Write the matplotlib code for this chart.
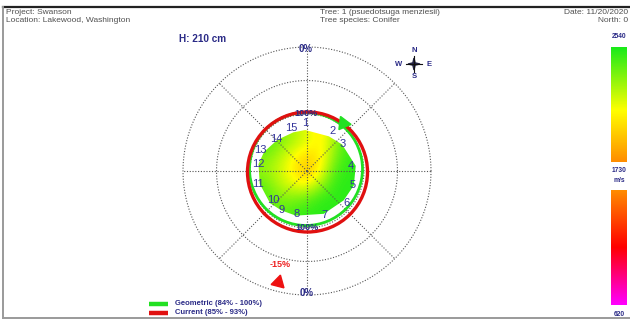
import numpy as np
import matplotlib.pyplot as plt
from matplotlib.colors import LinearSegmentedColormap, Normalize
from matplotlib.patches import Polygon, Circle

plt.rcParams['font.family'] = ['Liberation Sans', 'DejaVu Sans']

NAVY = '#2a2a86'

# header info
project = 'Project: Swanson'
location = 'Location: Lakewood, Washington'
tree = 'Tree: 1 (psuedotsuga menziesii)'
species = 'Tree species: Conifer'
date = 'Date: 11/20/2020'
north = 'North: 0'
height_label = 'H: 210 cm'

# velocity scale (m/s)
vel_min, vel_mid, vel_max = 620, 1730, 2540

# sensors: angle clockwise from north (deg), label radius and edge radius (px)
sensor_ids = list(range(1, 16))
sensor_angle = [357.6, 32.3, 53, 84, 107, 128.6, 158.5, 194, 213, 229, 255, 278, 294, 316.5, 340.5]
label_radius = [47.7, 47.3, 44.5, 44, 48, 51, 47, 44.7, 46.5, 44.4, 51, 49, 51.5, 44, 46]
edge_radius = [41, 41, 44, 49, 49, 47, 46, 46, 47, 49, 49, 49, 47, 43, 41]

# velocity grid across the cross-section (top row first)
velocity = np.array([
    [2400, 2350, 2250, 2150, 2000, 2300, 2450],
    [2450, 2350, 2250, 2150, 2050, 2300, 2500],
    [2350, 2250, 2100, 1950, 2050, 2350, 2500],
    [2300, 2200, 2050, 1880, 2100, 2450, 2500],
    [2400, 2250, 2150, 2100, 2300, 2500, 2500],
    [2450, 2350, 2350, 2400, 2500, 2500, 2500],
    [2400, 2400, 2450, 2500, 2500, 2500, 2450],
])

# percentage rings
ring_pct = [0, 50, 100]
ring_label_pct = [0, 100]
R0, R100 = 124, 57

# outline rings
geometric_radius, geometric_offset = 56.5, (-1, 2)
current_radius, current_offset = 60, (0.5, -1)
legend_labels = ['Geometric (84% - 100%)', 'Current (85% - 93%)']
legend_colors = ['#22e022', '#e01010']

# direction markers: angle (deg, clockwise from north), radius (px)
geo_marker = (37, 60)
lean_marker = (194.5, 115)
lean_label = '-15%'


def pct_to_r(p):
    return R100 + (100 - p) / 100 * (R0 - R100)


def polar_xy(angle_deg, r):
    a = np.radians(angle_deg)
    return r * np.sin(a), r * np.cos(a)


cmap = LinearSegmentedColormap.from_list('tomo', [
    (0.0, (1.0, 0.0, 1.0)),
    ((1175 - vel_min) / (vel_max - vel_min), (1.0, 0.0, 0.0)),
    ((vel_mid - vel_min) / (vel_max - vel_min), (1.0, 0.55, 0.0)),
    ((2095 - vel_min) / (vel_max - vel_min), (1.0, 1.0, 0.0)),
    (1.0, (0.1, 0.92, 0.1)),
])
norm = Normalize(vel_min, vel_max)

fig = plt.figure(figsize=(6.3, 3.2), dpi=100)

# page layer in pixel coordinates
page = fig.add_axes([0, 0, 1, 1])
page.set_xlim(0, 630)
page.set_ylim(320, 0)
page.axis('off')
page.plot([3, 630], [7, 7], color='#222222', lw=1.6)
page.plot([3, 3], [7, 318], color='#9a9a9a', lw=1.4)
page.plot([3, 630], [318, 318], color='#9a9a9a', lw=1.4)

hdr = dict(fontsize=6, color='#505050', va='center')
page.text(6, 12.5, project, **hdr)
page.text(6, 21, location, **hdr)
page.text(320, 12.5, tree, **hdr)
page.text(320, 21, species, **hdr)
page.text(628, 12.5, date, ha='right', **hdr)
page.text(628, 21, north, ha='right', **hdr)
page.text(179, 39, height_label, fontsize=7.2, fontweight='bold', color=NAVY, va='center')

# compass
cx, cy = 414, 64
page.plot([cx, cx], [cy - 8, cy + 8], color='#111111', lw=0.8)
page.plot([cx - 8, cx + 8], [cy, cy], color='#111111', lw=0.8)
star_ang = np.radians(np.arange(0, 360, 45))
star_r = np.where(np.arange(8) % 2 == 0, 6, 1.6)
page.add_patch(Polygon(np.column_stack([cx + star_r * np.sin(star_ang), cy - star_r * np.cos(star_ang)]),
                       closed=True, color='#222244'))
cmp = dict(fontsize=5.5, fontweight='bold', color=NAVY, ha='center', va='center')
page.text(cx, cy - 14, 'N', **cmp)
page.text(cx, cy + 13, 'S', **cmp)
page.text(cx - 15, cy, 'W', **cmp)
page.text(cx + 15, cy, 'E', **cmp)

# legend
for i, (lab, col) in enumerate(zip(legend_labels, legend_colors)):
    y = 303.5 + i * 9
    page.plot([149, 168], [y, y], color=col, lw=3.2, solid_capstyle='butt')
    page.text(175, y, lab, fontsize=5.5, fontweight='bold', color=NAVY, va='center')

# colour scale
bar_top = fig.add_axes([611 / 630, (320 - 162) / 320, 16 / 630, 115 / 320])
bar_top.imshow(np.linspace(vel_max, vel_mid, 256)[:, None], cmap=cmap, norm=norm, aspect='auto')
bar_top.axis('off')
bar_bot = fig.add_axes([611 / 630, (320 - 305) / 320, 16 / 630, 115 / 320])
bar_bot.imshow(np.linspace(vel_mid, vel_min, 256)[:, None], cmap=cmap, norm=norm, aspect='auto')
bar_bot.axis('off')
sc = dict(fontsize=4.8, fontweight='bold', color=NAVY, ha='center', va='center')
page.text(619, 37, str(vel_max), **sc)
page.text(619, 171, str(vel_mid), **sc)
page.text(619, 180.5, 'm/s', **sc)
page.text(619, 314, str(vel_min), **sc)

# tomogram chart, pixel units around the stem centre
ax = fig.add_axes([(307 - 135) / 630, (320 - 171 - 135) / 320, 270 / 630, 270 / 320])
ax.set_xlim(-135, 135)
ax.set_ylim(-135, 135)
ax.set_aspect('equal')
ax.axis('off')

dot = dict(color='#555555', lw=0.8, ls=(0, (1, 1.5)))
t = np.linspace(0, 2 * np.pi, 361)
for p in ring_pct:
    r = pct_to_r(p)
    ax.plot(r * np.cos(t), r * np.sin(t), zorder=1, **dot)
for a in range(0, 360, 45):
    x, y = polar_xy(a, R0)
    ax.plot([0, x], [0, y], zorder=4, **dot)

ex, ey = polar_xy(np.array(sensor_angle), np.array(edge_radius))
outline = Polygon(np.column_stack([ex, ey]), closed=True, facecolor='none', edgecolor='none')
ax.add_patch(outline)
img = ax.imshow(velocity, cmap=cmap, norm=norm, extent=[-50, 50, -50, 50],
                interpolation='bicubic', zorder=2)
img.set_clip_path(outline)

ax.add_patch(Circle(geometric_offset, geometric_radius, fill=False, ec=legend_colors[0], lw=2.0, zorder=5))
ax.add_patch(Circle(current_offset, current_radius, fill=False, ec=legend_colors[1], lw=2.4, zorder=6))

gx, gy = polar_xy(*geo_marker)
ax.plot(gx, gy, marker=(3, 0, 180 - geo_marker[0]), ms=11, color=legend_colors[0], zorder=7)
lx, ly = polar_xy(*lean_marker)
ax.plot(lx, ly, marker=(3, 0, 180 - lean_marker[0]), ms=11, color='#ee1111', zorder=7)
ax.text(lx + 2, ly + 18, lean_label, fontsize=6.5, fontweight='bold', color='#ee2222', ha='center', va='center')

nx, ny = polar_xy(np.array(sensor_angle), np.array(label_radius))
for sid, x, y in zip(sensor_ids, nx, ny):
    ax.text(x, y, str(sid), fontsize=8, color='#33339a', ha='center', va='center', zorder=8)

lab = dict(fontweight='bold', color=NAVY, ha='center', va='center', zorder=8)
for p in ring_label_pct:
    r = pct_to_r(p)
    inset = 2.5 if p == 0 else 0
    size = 7 if p == 0 else 6.5
    ax.text(-1, r - inset, f'{p}%', fontsize=size, **lab)
    ax.text(0, -(r - inset), f'{p}%', fontsize=size, **lab)

fig.savefig('out.png', dpi=100)
